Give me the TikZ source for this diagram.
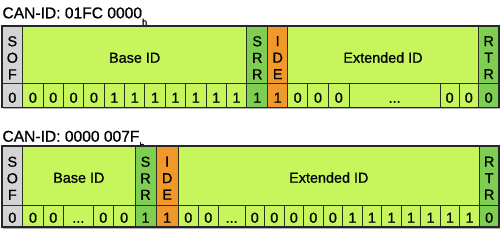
\documentclass[tikz,border=0pt]{standalone}
\usepackage{fontspec}
\setmainfont{Liberation Sans}[FakeBold=0.8]
\definecolor{lgreen}{RGB}{198,246,92}
\definecolor{mgreen}{RGB}{126,206,82}
\definecolor{orng}{RGB}{240,152,42}
\definecolor{sofgray}{RGB}{212,212,212}
\definecolor{lnc}{RGB}{40,50,30}
\begin{document}
\begin{tikzpicture}[x=1pt,y=-1pt,
  txt/.style={inner sep=0pt,font=\fontsize{14.4}{16.5}\selectfont},
  bitlbl/.style={txt,anchor=base},
  fieldlbl/.style={txt,anchor=base},
  vlbl/.style={txt,anchor=north,align=center},
  titlelbl/.style={inner sep=0pt,anchor=base west,font=\fontsize{15.6}{16}\selectfont},
  thinln/.style={draw=lnc,line width=0.8pt},
  outerln/.style={draw=black!85,line width=1.5pt},
  shadowln/.style={draw=black!30,line width=1pt}]
\useasboundingbox (0,0) rectangle (500,230);
\newcommand\subh{\raisebox{-7pt}{\fontsize{9}{9}\selectfont h}}

%% ================= Row 1 =================
\node[titlelbl] (t1) at (2.3,18.3) {CAN-ID: 01FC 0000\subh};
\fill[sofgray] (2,26) rectangle (22.7,107.5);
\fill[lgreen] (22.7,26) rectangle (246.7,107.5);
\fill[mgreen] (246.7,26) rectangle (267.7,107.5);
\fill[orng]   (267.7,26) rectangle (287.7,107.5);
\fill[lgreen] (287.7,26) rectangle (478.3,107.5);
\fill[mgreen] (478.3,26) rectangle (499,107.5);
\draw[thinln] (2,83) -- (499,83);
\foreach \x in {22.7,246.7,267.7,287.7,478.3}
  \draw[thinln] (\x,26) -- (\x,107.5);
\foreach \i in {1,...,10}
  \draw[thinln] ({22.7+\i*20.364},83) -- ({22.7+\i*20.364},107.5);
\foreach \x in {307.7,328.3,349.3,440,459.3}
  \draw[thinln] (\x,83) -- (\x,107.5);
\draw[shadowln] (3,108.8) -- (500,108.8);
\draw[outerln] (2,26) rectangle (499,107.5);

\node[vlbl] (sof1) at (12.35,36) {S\\O\\F};
\node[fieldlbl] (base1) at (134.7,62.7) {Base ID};
\node[vlbl] (srr1) at (257.2,36) {S\\R\\R};
\node[vlbl] (ide1) at (277.7,36) {I\\D\\E};
\node[fieldlbl] (ext1) at (383,62.7) {Extended ID};
\node[vlbl] (rtr1) at (488.65,36) {R\\T\\R};

\node[bitlbl] (b1sof) at (12.35,102.7) {0};
\foreach \v [count=\i] in {0,0,0,0,1,1,1,1,1,1,1}
  \node[bitlbl] (b1base\i) at ({22.7+(\i-0.5)*20.364},102.7) {\v};
\node[bitlbl] (b1srr) at (257.2,102.7) {1};
\node[bitlbl] (b1ide) at (277.7,102.7) {1};
\node[bitlbl] (b1e1) at (297.7,102.7) {0};
\node[bitlbl] (b1e2) at (318,102.7) {0};
\node[bitlbl] (b1e3) at (338.8,102.7) {0};
\node[bitlbl] (b1dots) at (394.65,102.7) {...};
\node[bitlbl] (b1e4) at (449.65,102.7) {0};
\node[bitlbl] (b1e5) at (468.8,102.7) {0};
\node[bitlbl] (b1rtr) at (488.65,102.7) {0};

%% ================= Row 2 =================
\node[titlelbl] (t2) at (2.3,141.7) {CAN-ID: 0000 007F\subh};
\fill[sofgray] (2,146) rectangle (22.7,227);
\fill[lgreen] (22.7,146) rectangle (135,227);
\fill[mgreen] (135,146) rectangle (156,227);
\fill[orng]   (156,146) rectangle (178.3,227);
\fill[lgreen] (178.3,146) rectangle (479.3,227);
\fill[mgreen] (479.3,146) rectangle (499,227);
\draw[thinln] (2,205) -- (499,205);
\foreach \x in {22.7,135,156,178.3,479.3}
  \draw[thinln] (\x,146) -- (\x,227);
\foreach \x in {43.3,63.3,93.3,113.3,198.3,218.3,245}
  \draw[thinln] (\x,205) -- (\x,227);
\foreach \i in {1,...,11}
  \draw[thinln] ({245+\i*19.525},205) -- ({245+\i*19.525},227);
\draw[shadowln] (3,228.3) -- (500,228.3);
\draw[outerln] (2,146) rectangle (499,227);

\node[vlbl] (sof2) at (12.35,156.5) {S\\O\\F};
\node[fieldlbl] (base2) at (78.85,182.7) {Base ID};
\node[vlbl] (srr2) at (145.5,156.5) {S\\R\\R};
\node[vlbl] (ide2) at (167.15,156.5) {I\\D\\E};
\node[fieldlbl] (ext2) at (328.8,182.7) {Extended ID};
\node[vlbl] (rtr2) at (489.15,156.5) {R\\T\\R};

\node[bitlbl] (b2sof) at (12.35,222.7) {0};
\node[bitlbl] (b2b1) at (33,222.7) {0};
\node[bitlbl] (b2b2) at (53.3,222.7) {0};
\node[bitlbl] (b2dots1) at (78.3,222.7) {...};
\node[bitlbl] (b2b3) at (103.3,222.7) {0};
\node[bitlbl] (b2b4) at (124.15,222.7) {0};
\node[bitlbl] (b2srr) at (145.5,222.7) {1};
\node[bitlbl] (b2ide) at (167.15,222.7) {1};
\node[bitlbl] (b2e1) at (188.3,222.7) {0};
\node[bitlbl] (b2e2) at (208.3,222.7) {0};
\node[bitlbl] (b2dots2) at (231.65,222.7) {...};
\foreach \v [count=\i] in {0,0,0,0,0,1,1,1,1,1,1,1}
  \node[bitlbl] (b2ext\i) at ({245+(\i-0.5)*19.525},222.7) {\v};
\node[bitlbl] (b2rtr) at (489.15,222.7) {0};
\end{tikzpicture}
\end{document}
